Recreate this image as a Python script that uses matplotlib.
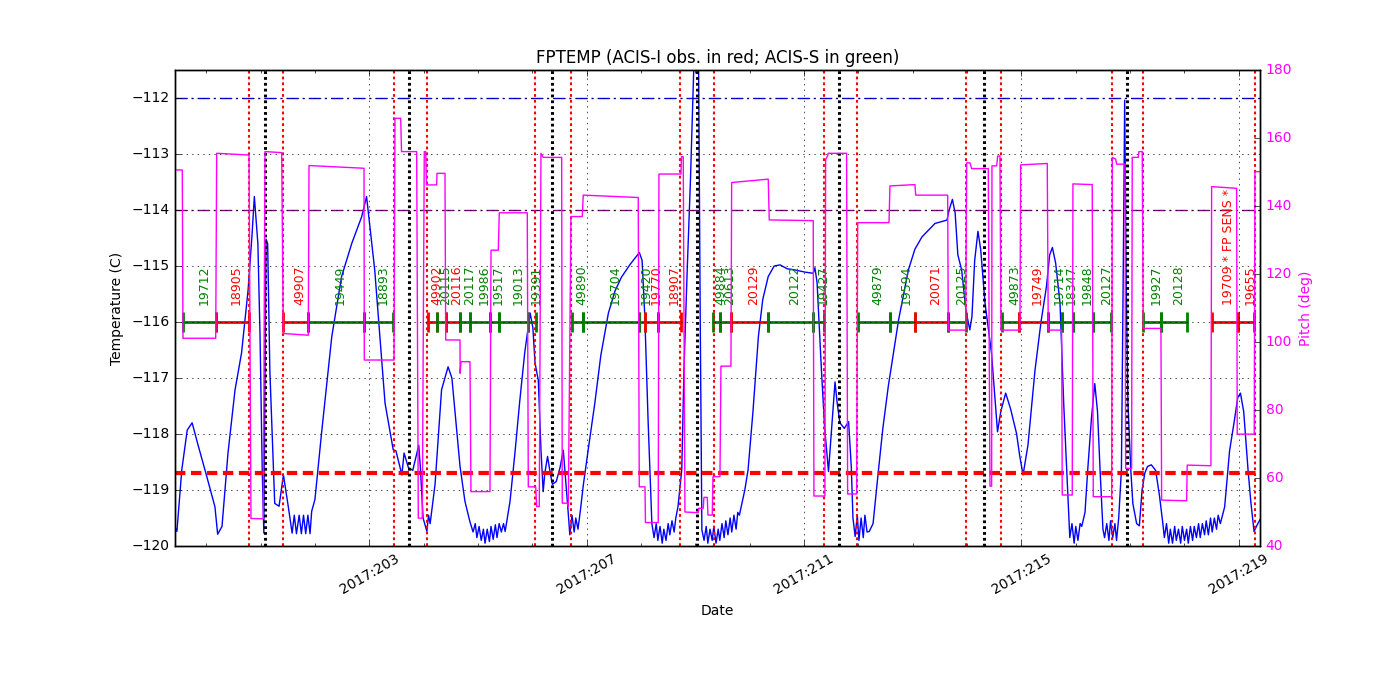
import matplotlib
matplotlib.use("Agg")
import matplotlib.pyplot as plt
from matplotlib.ticker import FixedLocator, MultipleLocator, FuncFormatter

# FPTEMP model (deg C) vs day of year 2017
temp_days = [
    199.425, 199.46, 199.55, 199.65, 199.74, 199.85, 200.01, 200.16, 200.21, 200.29,
    200.40, 200.53, 200.65, 200.77, 200.84, 200.885, 200.95, 200.99, 201.03, 201.06,
    201.08, 201.10, 201.13, 201.17, 201.26, 201.34, 201.42, 201.51,
    201.58, 201.62, 201.66, 201.71, 201.75, 201.79, 201.83, 201.87, 201.91,
    201.94, 202.00, 202.12, 202.31, 202.49, 202.68, 202.86, 202.95, 203.10, 203.29,
    203.44, 203.49, 203.60, 203.64, 203.72, 203.80, 203.91, 203.94, 203.99, 204.06,
    204.09, 204.12, 204.21, 204.33, 204.45, 204.52, 204.67, 204.76, 204.85,
    204.91, 204.95, 204.98, 205.02, 205.06, 205.10, 205.13, 205.17, 205.21, 205.24,
    205.28, 205.32, 205.35, 205.39, 205.43, 205.47,
    205.50, 205.59, 205.68, 205.77, 205.86, 205.96, 206.01, 206.05, 206.11, 206.16,
    206.20, 206.23, 206.28, 206.33, 206.37, 206.44, 206.51, 206.57, 206.62, 206.66,
    206.69, 206.73, 206.77, 206.80, 206.84, 206.88,
    206.94, 207.04, 207.15, 207.26, 207.40, 207.52, 207.64, 207.80, 207.97, 208.02,
    208.07, 208.13, 208.20,
    208.24, 208.28, 208.31, 208.35, 208.39, 208.42, 208.46, 208.50, 208.53, 208.57,
    208.61, 208.64,
    208.68, 208.75, 208.79, 208.85, 208.91, 208.97, 209.01, 209.06, 209.09, 209.12,
    209.16, 209.20, 209.23, 209.27, 209.31, 209.34, 209.38, 209.42, 209.45, 209.49,
    209.53, 209.56, 209.60, 209.64, 209.67, 209.71, 209.75, 209.78,
    209.81, 209.91, 209.97, 210.06, 210.16, 210.24, 210.34, 210.45, 210.56, 210.69,
    210.83, 211.02, 211.17, 211.20, 211.24, 211.32, 211.38, 211.45, 211.50, 211.57,
    211.61, 211.66, 211.74, 211.82, 211.87, 211.90, 211.94,
    211.98, 212.01, 212.05, 212.09, 212.12, 212.16,
    212.20, 212.27, 212.37, 212.45, 212.55, 212.74, 212.92, 213.04, 213.17, 213.41,
    213.63, 213.67, 213.73, 213.78, 213.83, 213.90, 213.98, 214.05, 214.09, 214.14,
    214.20, 214.25, 214.33, 214.45, 214.56, 214.62, 214.71, 214.80, 214.91, 214.97,
    215.03, 215.12, 215.25, 215.36, 215.46, 215.52, 215.57, 215.63, 215.71, 215.78,
    215.86,
    215.89, 215.93, 215.97, 216.00, 216.04, 216.08,
    216.11, 216.17, 216.22, 216.29, 216.35, 216.40, 216.45, 216.50,
    216.53, 216.57, 216.61, 216.64, 216.68, 216.72, 216.75, 216.79,
    216.84, 216.87, 216.90, 216.93, 216.96, 217.01, 217.05, 217.12, 217.17, 217.22,
    217.27, 217.32, 217.39, 217.47, 217.54, 217.60,
    217.63, 217.67, 217.71, 217.74, 217.78, 217.82, 217.85, 217.89, 217.93, 217.96,
    218.00, 218.04, 218.07, 218.11, 218.15, 218.18, 218.22, 218.26, 218.29, 218.33,
    218.37, 218.40, 218.44, 218.48, 218.51, 218.55, 218.59, 218.62, 218.66,
    218.74, 218.83, 218.92, 218.98, 219.03, 219.09, 219.17, 219.22, 219.28, 219.35,
    219.42,
]
temp_vals = [
    -119.66, -119.74, -118.64, -117.93, -117.80, -118.20, -118.76, -119.30, -119.79, -119.65,
    -118.34, -117.21, -116.55, -115.43, -114.48, -113.76, -114.60, -116.26, -118.64, -119.77,
    -117.20, -114.52, -114.60, -116.86, -119.24, -119.29, -118.73, -119.30,
    -119.77, -119.45, -119.78, -119.45, -119.78, -119.45, -119.78, -119.45, -119.78,
    -119.38, -119.17, -118.00, -116.26, -115.19, -114.59, -114.12, -113.76, -115.07, -117.45,
    -118.28, -118.30, -118.73, -118.34, -118.60, -118.65, -118.20, -118.60, -119.50, -119.74,
    -119.45, -119.60, -118.90, -117.21, -116.80, -117.00, -118.58, -119.20, -119.56,
    -119.75, -119.60, -119.85, -119.65, -119.90, -119.70, -119.95, -119.70, -119.92, -119.65,
    -119.88, -119.62, -119.85, -119.60, -119.75, -119.60,
    -119.74, -119.20, -118.34, -117.40, -116.55, -115.84, -116.10, -116.73, -117.04, -118.30,
    -119.03, -118.70, -118.40, -118.70, -118.90, -118.85, -118.60, -118.29, -118.90, -119.40,
    -119.80, -119.45, -119.75, -119.50, -119.70, -119.40,
    -118.90, -118.20, -117.45, -116.60, -115.84, -115.45, -115.20, -114.97, -114.76, -114.90,
    -115.90, -117.75, -119.60,
    -119.85, -119.60, -119.90, -119.65, -119.95, -119.70, -119.90, -119.60, -119.80, -119.55,
    -119.75, -119.50,
    -119.30, -118.64, -116.86, -115.07, -113.46, -111.50, -110.80, -111.50, -116.00, -119.71,
    -119.90, -119.65, -119.95, -119.70, -119.90, -119.65, -119.95, -119.70, -119.90, -119.60,
    -119.85, -119.55, -119.80, -119.50, -119.75, -119.45, -119.70, -119.40,
    -119.45, -119.00, -118.64, -117.60, -116.26, -115.60, -115.19, -115.00, -114.98, -115.05,
    -115.07, -115.11, -115.13, -115.03, -115.30, -116.86, -117.90, -118.67, -118.00, -117.07,
    -117.45, -117.80, -117.90, -117.78, -118.60, -119.50, -119.83,
    -119.45, -119.90, -119.50, -119.85, -119.45, -119.75,
    -119.74, -119.60, -118.64, -117.90, -117.15, -115.96, -115.07, -114.70, -114.48, -114.24,
    -114.18, -114.00, -113.81, -114.05, -114.80, -115.07, -115.80, -116.14, -115.90, -114.90,
    -114.38, -114.70, -115.66, -116.56, -117.96, -117.60, -117.27, -117.55, -117.99, -118.40,
    -118.73, -118.20, -116.86, -116.00, -115.37, -114.80, -114.67, -114.95, -115.66, -117.50,
    -119.24,
    -119.85, -119.60, -119.95, -119.65, -119.90, -119.60,
    -119.65, -119.40, -118.64, -117.70, -117.10, -117.60, -118.70, -119.70,
    -119.85, -119.60, -119.90, -119.55, -119.85, -119.60, -119.90, -119.50,
    -118.64, -115.50, -112.04, -115.50, -117.45, -118.60, -119.24, -119.60, -119.64, -119.00,
    -118.70, -118.58, -118.55, -118.65, -119.10, -119.58,
    -119.85, -119.60, -119.95, -119.70, -119.95, -119.65, -119.90, -119.70, -119.95, -119.65,
    -119.90, -119.70, -119.95, -119.65, -119.90, -119.65, -119.85, -119.60, -119.85, -119.60,
    -119.80, -119.55, -119.80, -119.50, -119.75, -119.50, -119.70, -119.45, -119.60,
    -119.30, -118.30, -117.75, -117.35, -117.27, -117.60, -118.64, -119.20, -119.74, -119.60,
    -119.48,
]

# pitch angle (deg), stepwise
pitch_days = [
    199.425, 199.559, 199.572, 200.174, 200.192, 200.787, 200.823, 201.050, 201.081, 201.388,
    201.418, 201.878, 201.891, 202.903, 202.908, 203.455, 203.473, 203.578, 203.593, 203.872,
    203.902, 203.975, 204.012, 204.038, 204.053, 204.240, 204.246, 204.393, 204.406, 204.669,
    204.672, 204.687, 204.853, 204.871, 205.221, 205.240, 205.374, 205.392, 205.907, 205.926,
    206.062, 206.080, 206.128, 206.159, 206.201, 206.540, 206.551, 206.656, 206.662, 206.711,
    206.919, 206.937, 207.949, 207.968, 208.073, 208.082, 208.317, 208.330, 208.735, 208.744,
    208.777, 208.808, 209.053, 209.062, 209.145, 209.158, 209.219, 209.232, 209.311, 209.324,
    209.453, 209.471, 209.655, 209.668, 210.341, 210.360, 211.169, 211.182, 211.384, 211.397,
    211.430, 211.445, 211.783, 211.802, 211.968, 211.987, 212.563, 212.581, 213.041, 213.054,
    213.643, 213.654, 213.974, 213.992, 214.053, 214.084, 214.390, 214.421, 214.452, 214.458,
    214.544, 214.563, 214.605, 214.623, 214.973, 214.986, 215.475, 215.494, 215.740, 215.751,
    215.935, 215.948, 216.303, 216.322, 216.661, 216.672, 216.734, 216.752, 216.905, 216.918,
    217.028, 217.039, 217.150, 217.162, 217.223, 217.242, 217.567, 217.580, 218.040, 218.051,
    218.487, 218.500, 218.960, 218.971, 219.284, 219.297, 219.420,
]
pitch_vals = [
    150.6, 150.6, 101.1, 101.1, 155.5, 155.0, 48.1, 48.0, 156.0, 155.7,
    102.5, 102.0, 151.9, 151.1, 94.7, 94.7, 165.8, 165.8, 156.0, 156.0,
    48.2, 48.2, 156.0, 156.0, 146.2, 146.2, 149.6, 149.6, 100.6, 100.6,
    90.8, 94.2, 94.2, 56.0, 56.0, 127.0, 127.0, 138.0, 138.0, 57.4,
    57.4, 51.6, 51.6, 155.5, 154.3, 154.3, 52.6, 52.6, 51.6, 136.9,
    136.9, 143.2, 142.5, 57.4, 57.4, 46.9, 46.9, 149.4, 149.4, 154.5,
    154.5, 50.0, 49.8, 51.1, 51.1, 54.3, 54.3, 49.1, 49.1, 60.4,
    60.4, 92.9, 92.9, 146.9, 147.9, 135.9, 135.7, 54.7, 54.7, 153.7,
    154.6, 155.5, 155.5, 55.3, 55.3, 135.1, 135.1, 145.9, 146.3, 143.2,
    143.2, 103.5, 103.5, 152.7, 152.7, 151.0, 151.0, 57.6, 57.6, 151.8,
    151.8, 154.7, 154.7, 103.5, 103.5, 152.1, 152.5, 103.5, 103.5, 55.0,
    55.0, 146.5, 146.3, 54.5, 54.5, 154.3, 153.8, 152.3, 152.3, 62.8,
    62.8, 154.3, 154.3, 156.0, 156.0, 104.0, 104.0, 53.5, 53.3, 63.8,
    63.6, 145.7, 145.2, 72.9, 72.9, 150.1, 150.1,
]

# observations: start, stop, obsid, instrument
obs_start = [
    199.578, 200.174, 201.418, 201.878, 202.908, 204.086, 204.240, 204.406, 204.669, 204.853,
    205.221, 205.387, 205.926, 206.730, 206.936, 207.960, 208.070, 208.320, 209.330, 209.450,
    209.655, 210.340, 211.170, 211.987, 212.581, 213.041, 213.657, 214.640, 214.960, 215.480,
    215.750, 215.940, 216.320, 217.240, 217.570, 218.500, 218.980,
]
obs_stop = [
    200.174, 200.787, 201.878, 202.908, 203.442, 204.240, 204.406, 204.669, 204.853, 205.221,
    205.387, 205.926, 206.062, 206.936, 207.960, 208.070, 208.320, 208.730, 209.450, 209.655,
    210.340, 211.170, 211.366, 212.581, 213.041, 213.657, 213.980, 214.960, 215.480, 215.750,
    215.940, 216.320, 216.650, 217.570, 218.050, 218.980, 219.280,
]
obs_ids = [
    "19712", "18905", "49907", "19449", "18893", "49902", "20115", "20116", "20117", "19986",
    "19517", "19013", "19391", "49890", "19704", "19420", "19770", "18907", "49884", "20613",
    "20129", "20122", "19427", "49879", "19594", "20071", "20125", "49873", "19749", "19714",
    "18347", "19848", "20127", "19927", "20128", "19709 * FP SENS *", "19655",
]
obs_instr = [
    "S", "I", "I", "S", "S", "I", "S", "I", "S", "S",
    "S", "S", "S", "S", "S", "S", "I", "I", "S", "S",
    "I", "S", "S", "S", "S", "I", "S", "S", "I", "S",
    "S", "S", "S", "S", "S", "I", "I",
]

rad_zone_times = [200.787, 201.418, 203.455, 204.057, 206.05, 206.71, 208.72, 209.34,
                  211.366, 211.98, 213.975, 214.62, 216.66, 217.24, 219.29]
perigee_times = [201.081, 203.736, 206.367, 209.024, 211.643, 214.316, 216.936]

planning_limit = -112.0
yellow_limit = -114.0
acis_i_limit = -118.7
major_days = [203, 207, 211, 215, 219]

plt.style.use("classic")
plt.rcParams["font.size"] = 10
plt.rcParams["figure.facecolor"] = "white"
plt.rcParams["savefig.facecolor"] = "white"

fig = plt.figure(figsize=(14, 7), dpi=100)
ax = fig.add_subplot(111)
fig.subplots_adjust(left=0.125, right=0.9, top=0.9, bottom=0.22)

ax.plot(temp_days, temp_vals, color="blue", lw=1)
dashdot = (0, (8.5, 3, 1.5, 3))
ax.axhline(planning_limit, color="blue", ls=dashdot, lw=1)
ax.axhline(yellow_limit, color="purple", ls=dashdot, lw=1)
ax.axhline(acis_i_limit, color="red", ls=(0, (7.5, 4)), lw=3)

obs_y = -116.0
for t0, t1, oid, ins in zip(obs_start, obs_stop, obs_ids, obs_instr):
    c = "red" if ins == "I" else "green"
    ax.plot([t0, t1], [obs_y, obs_y], "-|", color=c, lw=2, ms=14, mew=2)
    ax.annotate(oid, xy=((t0 + t1) / 2, obs_y + 0.3), xytext=(3, 0),
                textcoords="offset points", rotation=90, ha="center",
                va="bottom", color=c, fontsize=9)

for t in rad_zone_times:
    ax.axvline(t, color="red", ls=(0, (2, 2.2)), lw=1.5)
for t in perigee_times:
    ax.axvline(t, color="black", ls=(0, (2, 2.2)), lw=2.2)

ax.set_xlim(199.425, 219.39)
ax.set_ylim(-120, -111.5)
ax.set_yticks(range(-120, -111))
ax.xaxis.set_major_locator(FixedLocator(major_days))
ax.xaxis.set_minor_locator(MultipleLocator(1))
ax.xaxis.set_major_formatter(FuncFormatter(lambda x, p: "2017:%03d" % round(x)))
for lbl in ax.get_xticklabels():
    lbl.set_rotation(30)
    lbl.set_ha("center")
ax.grid(True)
ax.set_xlabel("Date")
ax.set_ylabel("Temperature (C)")
ax.set_title("FPTEMP (ACIS-I obs. in red; ACIS-S in green)")

ax2 = ax.twinx()
ax2.plot(pitch_days, pitch_vals, color="magenta", lw=1)
ax2.set_ylim(40, 180)
ax2.set_xlim(199.425, 219.39)
ax2.set_ylabel("Pitch (deg)", color="magenta")
for lbl in ax2.get_yticklabels():
    lbl.set_color("magenta")

fig.savefig("out.png", dpi=100)
